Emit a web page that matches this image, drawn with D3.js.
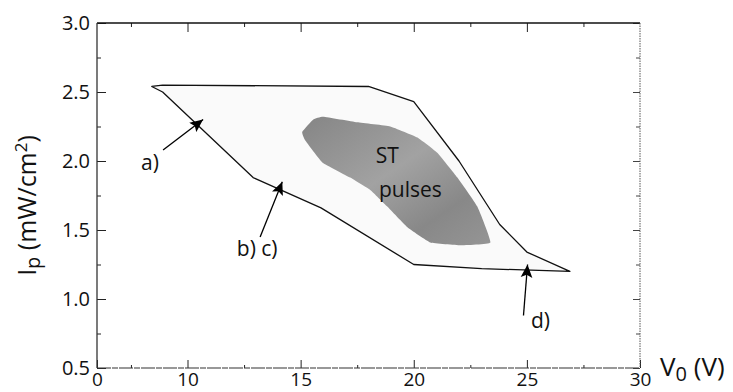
<!DOCTYPE html>
<html>
<head>
<meta charset="utf-8">
<script src="https://cdn.jsdelivr.net/npm/d3@7/dist/d3.min.js"></script>
<style>
  html, body { margin: 0; padding: 0; background: #fff; }
  svg { display: block; }
  text { font-family: "Open Sans", "DejaVu Sans", sans-serif; fill: #111; }
</style>
</head>
<body>
<svg id="chart" width="733" height="392"></svg>
<script>
// ---- data ----
const xDomain = [6, 30];
const yDomain = [0.5, 3.0];
const xMajorTicks = [6, 10, 15, 20, 25, 30];
const xTickLabels = ["0", "10", "15", "20", "25", "30"];
const xMinorTicks = [7.5, 12.5, 17.5, 22.5, 27.5];
const yMajorTicks = [0.5, 1.0, 1.5, 2.0, 2.5, 3.0];
const yMinorTicks = [0.75, 1.25, 1.75, 2.25, 2.75];

// outer (light) region boundary
const outerV = [8.42, 8.9, 18.0, 20.0, 22.0, 23.8, 25.0, 26.9, 23.0, 20.0, 15.9, 12.9, 8.9];
const outerI = [2.54, 2.55, 2.54, 2.43, 2.0, 1.54, 1.34, 1.2, 1.22, 1.25, 1.66, 1.88, 2.5];

// ST pulses (dark) region boundary
const stV = [15.07, 15.56, 16.0, 17.5, 18.96, 20.16, 21.04, 21.93, 22.81, 23.39, 22.06, 20.73, 19.72, 18.83, 18.08, 17.19, 15.96, 15.2];
const stI = [2.21, 2.30, 2.32, 2.28, 2.25, 2.17, 2.06, 1.88, 1.67, 1.41, 1.39, 1.41, 1.52, 1.67, 1.79, 1.88, 1.99, 2.15];

// annotation arrows
const arrowNames = ["a)", "b) c)", "d)"];
const arrowFromV = [8.92, 13.21, 24.85];
const arrowFromI = [2.08, 1.45, 0.88];
const arrowToV = [10.69, 14.19, 25.03];
const arrowToI = [2.30, 1.85, 1.25];
const labelV = [8.34, 13.08, 25.6];
const labelI = [1.99, 1.37, 0.85];

const regionLabel = ["ST", "pulses"];
const regionLabelV = [18.83, 19.85];
const regionLabelI = [2.04, 1.80];

// ---- layout ----
const svg = d3.select("#chart");
const L = 97, R = 640, T = 23, B = 368;
const x = d3.scaleLinear().domain(xDomain).range([L, R]);
const y = d3.scaleLinear().domain(yDomain).range([B, T]);

const defs = svg.append("defs");
defs.append("marker")
  .attr("id", "ah").attr("viewBox", "0 0 10 10")
  .attr("refX", 10).attr("refY", 5)
  .attr("markerWidth", 13).attr("markerHeight", 13)
  .attr("markerUnits", "userSpaceOnUse")
  .attr("orient", "auto")
  .append("path").attr("d", "M0,0.5 L10,5 L0,9.5 L2,5 Z").attr("fill", "#000");

const grad = defs.append("linearGradient").attr("id", "stg")
  .attr("x1", "0%").attr("y1", "0%").attr("x2", "100%").attr("y2", "100%");
grad.append("stop").attr("offset", "0%").attr("stop-color", "#858585");
grad.append("stop").attr("offset", "45%").attr("stop-color", "#a2a2a2");
grad.append("stop").attr("offset", "75%").attr("stop-color", "#888");
grad.append("stop").attr("offset", "100%").attr("stop-color", "#959595");

const line = d3.line().x(d => x(d[0])).y(d => y(d[1]));

// outer region
const outerPts = outerV.map((v, i) => [v, outerI[i]]);
svg.append("path")
  .attr("d", line(outerPts) + "Z")
  .attr("fill", "#fafafa")
  .attr("stroke", "#111")
  .attr("stroke-width", 1.3)
  .attr("stroke-linejoin", "round");

// ST region
const stPts = stV.map((v, i) => [v, stI[i]]);
svg.append("path")
  .attr("d", d3.line().x(d => x(d[0])).y(d => y(d[1])).curve(d3.curveCardinalClosed.tension(0.7))(stPts))
  .attr("fill", "url(#stg)")
  .attr("stroke", "none");

// region labels
svg.selectAll("text.rl").data(regionLabel).join("text")
  .attr("class", "rl")
  .attr("x", (d, i) => x(regionLabelV[i]))
  .attr("y", (d, i) => y(regionLabelI[i]))
  .attr("text-anchor", "middle")
  .attr("dominant-baseline", "central")
  .attr("font-size", 21)
  .text(d => d);

// arrows
svg.selectAll("line.arr").data(arrowNames).join("line")
  .attr("class", "arr")
  .attr("x1", (d, i) => x(arrowFromV[i])).attr("y1", (d, i) => y(arrowFromI[i]))
  .attr("x2", (d, i) => x(arrowToV[i])).attr("y2", (d, i) => y(arrowToI[i]))
  .attr("stroke", "#000").attr("stroke-width", 1.3)
  .attr("marker-end", "url(#ah)");

svg.selectAll("text.al").data(arrowNames).join("text")
  .attr("class", "al")
  .attr("x", (d, i) => x(labelV[i]))
  .attr("y", (d, i) => y(labelI[i]))
  .attr("text-anchor", "middle")
  .attr("dominant-baseline", "central")
  .attr("font-size", 21)
  .text(d => d);

// ---- axes ----
function styleAxis(g) { g.select(".domain").remove(); }

// left axis
const gl = svg.append("g").attr("transform", `translate(${L},0)`)
  .call(d3.axisLeft(y).tickValues(yMajorTicks.concat(yMinorTicks)).tickSize(0)
    .tickFormat(d => yMajorTicks.includes(d) ? d3.format(".1f")(d) : ""));
styleAxis(gl);
gl.selectAll(".tick line").attr("x2", d => yMajorTicks.includes(d) ? 9 : 4).attr("stroke", "#222");
gl.selectAll(".tick text").attr("x", -7).attr("font-size", 20)
  .attr("font-family", "'Open Sans', sans-serif").attr("fill", "#111");

// right axis (dotted)
const gr = svg.append("g").attr("transform", `translate(${R},0)`)
  .call(d3.axisRight(y).tickValues(yMajorTicks.concat(yMinorTicks)).tickSize(0).tickFormat(""));
styleAxis(gr);
gr.selectAll(".tick line").attr("x2", d => yMajorTicks.includes(d) ? -7 : -4).attr("stroke", "#444");

// bottom axis
const gb = svg.append("g").attr("transform", `translate(0,${B})`)
  .call(d3.axisBottom(x).tickValues(xMajorTicks.concat(xMinorTicks)).tickSize(0)
    .tickFormat(d => { const k = xMajorTicks.indexOf(d); return k >= 0 ? xTickLabels[k] : ""; }));
styleAxis(gb);
gb.selectAll(".tick line").attr("y2", d => xMajorTicks.includes(d) ? -8 : -3).attr("stroke", "#222");
gb.selectAll(".tick text").attr("y", 18).attr("dy", 0).attr("font-size", 19)
  .attr("font-family", "'Open Sans', sans-serif").attr("fill", "#111");

// top axis
const gt = svg.append("g").attr("transform", `translate(0,${T})`)
  .call(d3.axisTop(x).tickValues(xMajorTicks.concat(xMinorTicks).filter(d => d > 6 && d < 30)).tickSize(0).tickFormat(""));
styleAxis(gt);
gt.selectAll(".tick line").attr("y2", d => xMajorTicks.includes(d) ? 9 : 4).attr("stroke", "#222");

// frame
svg.append("line").attr("x1", L).attr("x2", R).attr("y1", T).attr("y2", T).attr("stroke", "#111").attr("stroke-width", 1.3);
svg.append("line").attr("x1", L).attr("x2", R).attr("y1", B).attr("y2", B).attr("stroke", "#333").attr("stroke-width", 1.2).attr("stroke-dasharray", "14,1,6,1");
svg.append("line").attr("x1", L).attr("x2", L).attr("y1", T).attr("y2", B).attr("stroke", "#333").attr("stroke-width", 1.3);
svg.append("line").attr("x1", R).attr("x2", R).attr("y1", T).attr("y2", B).attr("stroke", "#555").attr("stroke-width", 1).attr("stroke-dasharray", "1.5,1");

// axis titles
const yt = svg.append("text")
  .attr("transform", `translate(36,${(T + B) / 2 + 10}) rotate(-90)`)
  .attr("text-anchor", "middle").attr("font-size", 25);
yt.append("tspan").text("I");
yt.append("tspan").attr("font-size", 20).attr("dy", 4).text("p");
yt.append("tspan").attr("dy", -4).text(" (mW/cm");
yt.append("tspan").attr("font-size", 17).attr("dy", -9).text("2");
yt.append("tspan").attr("dy", 9).text(")");

const xt = svg.append("text").attr("x", 660).attr("y", 376).attr("font-size", 26);
xt.append("tspan").text("V");
xt.append("tspan").attr("font-size", 20).attr("dy", 5).text("0");
xt.append("tspan").attr("dy", -5).text(" (V)");
</script>
</body>
</html>
